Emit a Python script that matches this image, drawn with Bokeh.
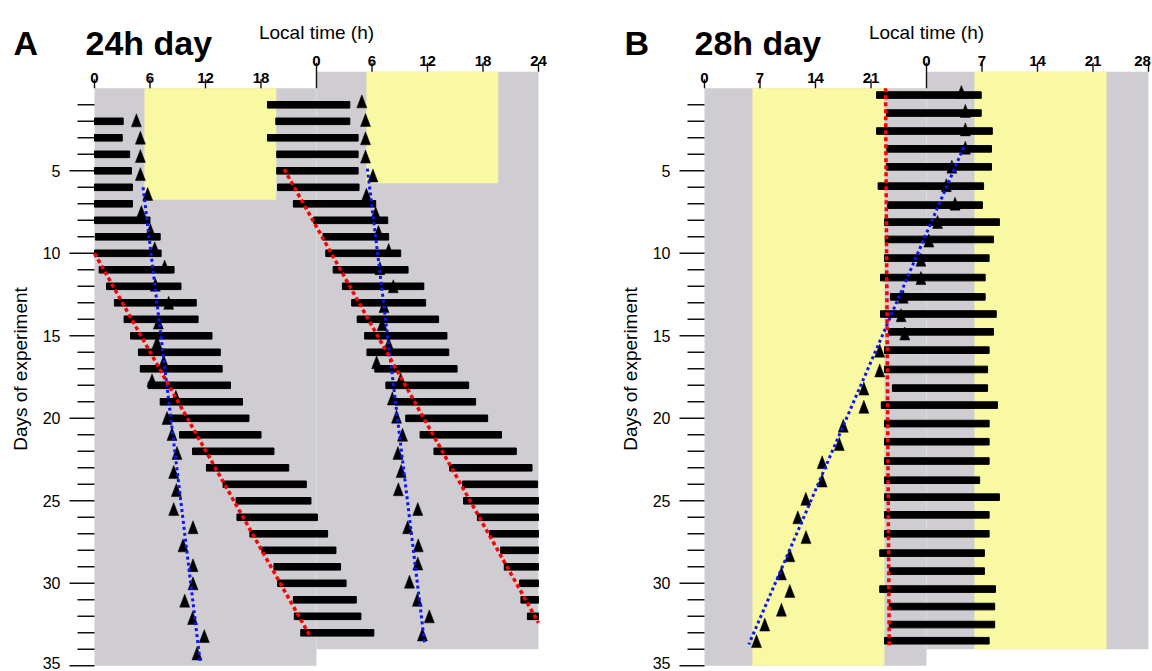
import math
from bokeh.plotting import figure
from bokeh.models import Range1d
from bokeh.layouts import row
from bokeh.embed import file_html
from bokeh.resources import INLINE
from bokeh.core.properties import value

FONT = "Liberation Sans"
GRAY = "#cfcdd1"
YELLOW = "#f8f9a2"
RED = "#ff0000"
BLUE = "#0a14ff"
INK = "#111111"

# ---------------- Panel A : 24 h day ----------------
A_PERIOD = 24
A_TICKS = [0, 6, 12, 18, 24]
A_LIGHT_ON, A_LIGHT_OFF = 5.4, 19.65
A_LD_END = 6.75  # last light-dark day in the left half (right half is one row higher)

# left half: day row, activity onset / offset (h, local time of that day)
A_L_ROW = list(range(2, 34))
A_L_ON = [-5.3, -4.4, -5.3, -4.3, -4.3, -4.2, -2.5, 0.1, 0.0, 0.5, 1.3, 2.15, 3.2, 3.9, 4.75, 4.95,
          5.8, 7.1, 7.8, 9.2, 10.6, 12.1, 13.9, 15.3, 15.4, 16.8, 18.1, 19.4, 19.8, 21.5, 21.6, 22.3]
A_L_OFF = [3.1, 3.0, 3.8, 4.0, 4.1, 4.1, 6.0, 7.1, 7.2, 8.6, 9.35, 11.0, 11.2, 12.7, 13.6, 13.8,
           14.7, 16.0, 16.7, 18.0, 19.4, 21.0, 22.9, 23.4, 24.1, 25.2, 26.1, 26.6, 27.2, 28.3, 28.8, 30.2]
# right half (double plot): row, onset / offset (h, right-hand local time)
A_R_ROW = list(range(1, 33))
A_R_ON = [-5.3, -4.4, -5.3, -4.3, -4.3, -4.2, -2.5, -0.3, 0.7, 1.0, 1.8, 2.8, 3.8, 4.4, 5.2, 5.45,
          6.3, 7.5, 8.5, 9.65, 11.2, 12.7, 14.4, 15.8, 15.9, 17.4, 18.7, 19.9, 20.3, 21.95, 22.1, 22.8]
A_R_OFF = [3.6, 3.6, 4.5, 4.5, 4.5, 4.6, 6.4, 7.7, 7.8, 9.1, 9.9, 11.6, 11.8, 13.2, 14.1, 14.3,
           15.2, 16.45, 17.2, 18.5, 20.0, 21.6, 23.3, 23.9, 24.6, 25.6, 26.5, 27.0, 27.6, 28.7, 29.2, 30.6]
# triangles (day, h)
A_L_TRI_DAY = [1.94, 2.99, 4.1, 5.2, 6.4, 7.5, 8.6, 9.7, 10.8, 11.9, 13.0, 14.2, 15.4, 16.55, 17.7,
               18.7, 19.98, 20.95, 22.1, 23.25, 24.35, 25.5, 26.6, 27.7, 28.9, 30.0, 31.05, 32.1, 33.2, 34.25]
A_L_TRI_H = [4.53, 4.96, 4.96, 4.96, 5.75, 5.07, 6.04, 6.51, 7.58, 6.58, 8.02, 6.9, 6.76, 7.48, 6.22,
             8.8, 7.84, 8.38, 8.92, 8.56, 8.85, 8.56, 10.65, 9.57, 10.65, 10.65, 9.75, 10.6, 11.87, 11.08]
A_R_TRI_DAY = [0.79, 1.92, 3.03, 4.14, 5.28, 6.45, 7.58, 8.7, 9.8, 10.9, 12.0, 13.2, 14.3, 15.5, 16.6,
               17.65, 18.8, 19.9, 21.0, 22.1, 23.2, 24.3, 25.5, 26.6, 27.7, 28.8, 29.9, 31.0, 32.0, 33.1]
A_R_TRI_H = [4.9, 5.3, 5.3, 5.3, 6.1, 5.4, 6.4, 6.7, 7.8, 6.85, 8.3, 7.3, 7.1, 7.8, 6.5,
             9.1, 8.2, 8.65, 9.3, 8.8, 9.15, 8.85, 10.95, 9.85, 11.0, 10.95, 10.05, 10.9, 12.2, 11.45]
# fitted lines (day, h)
A_L_BLUE_DAY, A_L_BLUE_H = [6.0, 34.8], [5.25, 11.43]
A_L_RED_DAY, A_L_RED_H = [10.0, 33.2], [0.0, 23.3]
A_R_BLUE_DAY, A_R_BLUE_H = [4.87, 33.7], [5.5, 11.7]
A_R_RED_DAY, A_R_RED_H = [4.9, 32.4], [-3.5, 24.0]

# ---------------- Panel B : 28 h day ----------------
B_PERIOD = 28
B_TICKS = [0, 7, 14, 21, 28]
B_LIGHT_ON, B_LIGHT_OFF = 6.05, 22.7
B_LD_END = 35
B_ROW_DAY = [0.41, 1.50, 2.59, 3.67, 4.76, 5.93, 7.08, 8.11, 9.16, 10.29, 11.47, 12.64, 13.68, 14.76,
             15.87, 17.04, 18.17, 19.2, 20.32, 21.42, 22.59, 23.75, 24.78, 25.85, 27.0, 28.17, 29.26,
             30.35, 31.41, 32.5, 33.48]
B_ON = [21.7, 22.95, 21.7, 23.0, 22.95, 21.9, 23.1, 22.7, 22.8, 22.7, 22.2, 23.45, 22.2, 23.2, 22.7,
        22.7, 23.7, 22.3, 22.7, 22.7, 22.7, 22.7, 22.7, 22.7, 22.7, 22.1, 23.3, 22.1, 23.3, 23.3, 22.7]
B_OFF = [34.9, 34.9, 36.3, 36.2, 36.2, 35.2, 35.05, 37.2, 36.45, 35.9, 35.4, 35.4, 36.8, 36.45, 35.9,
         35.7, 35.7, 36.95, 35.9, 35.9, 35.9, 34.7, 37.2, 35.9, 35.9, 35.3, 35.3, 36.7, 36.6, 36.6, 35.9]
B_TRI_DAY = [0.22, 1.37, 2.49, 3.6, 4.75, 5.87, 6.99, 8.1, 9.23, 10.39, 11.5, 12.63, 13.75, 14.86, 15.9,
             17.1, 18.2, 19.3, 20.45, 21.56, 22.66, 23.77, 24.88, 26.0, 27.2, 28.3, 29.4, 30.46, 31.6,
             32.5, 33.5]
B_TRI_H = [32.4, 32.9, 32.9, 32.9, 31.2, 30.5, 31.6, 29.4, 28.3, 27.3, 27.3, 25.06, 24.8, 25.26, 22.1,
           22.1, 20.1, 20.1, 17.5, 17.0, 14.84, 14.84, 12.78, 11.77, 12.8, 10.76, 9.7, 10.76, 9.7,
           7.6, 6.56]
B_BLUE_DAY, B_BLUE_H = [3.56, 33.7], [32.7, 5.59]
B_RED_DAY, B_RED_H = [0.0, 33.9], [22.83, 23.3]

DAY_MAJOR = [5, 10, 15, 20, 25, 30, 35]
DAY_MINOR = [d for d in range(1, 35) if d % 5]
Y_LABEL = "Days of experiment"
X_LABEL = "Local time (h)"

# ---------------- page geometry (pixels) ----------------
HEIGHT = 671
PX_DAY = 16.5      # pixels per day
DAY0_PX = 87.8     # canvas y of day 0
HALF_PX = 222.0    # pixels per plotted period


def make_panel(period, ticks, light_on, light_off, ld_end, letter, title,
               width, frame_left, letter_px, title_px):
    pxh = HALF_PX / period

    def xh(px):
        return (px - frame_left) / pxh

    def yd(px):
        return (px - DAY0_PX) / PX_DAY

    p = figure(width=width, height=HEIGHT, x_range=Range1d(xh(0), xh(width)),
               y_range=Range1d(yd(HEIGHT), yd(0)), x_axis_type=None, y_axis_type=None,
               toolbar_location=None, output_backend="svg",
               min_border=0, min_border_left=0, min_border_right=0,
               min_border_top=0, min_border_bottom=0,
               background_fill_color="white", border_fill_color="white")
    p.outline_line_color = None
    p.grid.visible = False

    offsets = [0, period]
    tops = [0, -1]
    p.quad(left=offsets, right=[o + period for o in offsets], top=tops,
           bottom=[35, 34], fill_color=GRAY, line_color=None)
    p.quad(left=[o + light_on for o in offsets], right=[o + light_off for o in offsets], top=tops,
           bottom=[ld_end, ld_end - 1], fill_color=YELLOW, line_color=None)

    tick_len = 9 / PX_DAY
    # top axis of the left half (day 0) and of the right half (day -1)
    lt = ticks[:-1]
    p.segment(x0=lt, y0=[0] * len(lt), x1=lt, y1=[-tick_len] * len(lt), line_color=INK, line_width=1.4)
    rt = [period + t for t in ticks[1:]]
    p.segment(x0=rt, y0=[-1] * len(rt), x1=rt, y1=[-1 - tick_len] * len(rt), line_color=INK, line_width=1.4)
    p.segment(x0=[period], y0=[0], x1=[period], y1=[-1 - tick_len], line_color=INK, line_width=1.4)
    p.text(x=lt, y=[yd(77.3)] * len(lt), text=[str(t) for t in lt], text_align="center",
           text_baseline="alphabetic", text_font=value(FONT), text_font_size="15px",
           text_font_style="bold", text_color="black")
    x_max_label = xh(width - 10)   # keep the last label inside the page
    p.text(x=[min(period + t, x_max_label) for t in ticks], y=[yd(60.8)] * len(ticks),
           text=[str(t) for t in ticks],
           text_align="center", text_baseline="alphabetic", text_font=value(FONT),
           text_font_size="15px", text_font_style="bold", text_color="black")
    p.text(x=[period], y=[yd(32.3)], text=[X_LABEL], text_align="center", text_baseline="alphabetic",
           text_font=value(FONT), text_font_size="19px", text_color="black")

    # left axis: days
    p.segment(x0=[-25 / pxh] * len(DAY_MAJOR), y0=DAY_MAJOR, x1=[0] * len(DAY_MAJOR), y1=DAY_MAJOR,
              line_color=INK, line_width=1.4)
    p.segment(x0=[-17 / pxh] * len(DAY_MINOR), y0=DAY_MINOR, x1=[0] * len(DAY_MINOR), y1=DAY_MINOR,
              line_color=INK, line_width=1.4)
    y_max_label = yd(HEIGHT - 9)   # keep the bottom label inside the page
    p.text(x=[-34 / pxh] * len(DAY_MAJOR), y=[min(d, y_max_label) for d in DAY_MAJOR],
           text=[str(d) for d in DAY_MAJOR],
           text_align="right", text_baseline="middle", text_font=value(FONT),
           text_font_size="16px", text_color="black")
    p.text(x=[xh(frame_left - 74)], y=[yd(368.5)], text=[Y_LABEL], angle=math.pi / 2,
           text_align="center", text_baseline="middle", text_font=value(FONT),
           text_font_size="19px", text_color="black")

    # panel letter and title
    p.text(x=[xh(letter_px), xh(title_px)], y=[yd(42.7)] * 2, text=[letter, title],
           text_align="left", text_baseline="alphabetic", text_font=value(FONT),
           text_font_size="34px", text_font_style="bold", text_color="black")
    return p


def bars(p, rows, on, off, offset, period):
    lo, hi = 0, 2 * period   # the actogram window
    left = [min(max(offset + v, lo), hi) for v in on]
    right = [min(max(offset + v, lo), hi) for v in off]
    p.hbar(y=rows, left=left, right=right, height=0.4, color="black")


def triangles(p, days, hours, offset, hw, hh):
    xs = [[offset + h - hw, offset + h, offset + h + hw] for h in hours]
    ys = [[d + hh, d - hh, d + hh] for d in days]
    p.patches(xs=xs, ys=ys, fill_color="black", line_color="black", line_width=0.5)


def dotted(p, days, hours, offset, color, width, dash):
    p.line(x=[offset + h for h in hours], y=days, line_color=color, line_width=width, line_dash=dash)


# ---- Panel A
pA = make_panel(A_PERIOD, A_TICKS, A_LIGHT_ON, A_LIGHT_OFF, A_LD_END, "A", "24h day",
                577, 94.0, 13, 85)
bars(pA, A_L_ROW, A_L_ON, A_L_OFF, 0, A_PERIOD)
bars(pA, A_R_ROW, A_R_ON, A_R_OFF, A_PERIOD, A_PERIOD)
pxhA = HALF_PX / A_PERIOD
triangles(pA, A_L_TRI_DAY, A_L_TRI_H, 0, 5 / pxhA, 6.5 / PX_DAY)
triangles(pA, A_R_TRI_DAY, A_R_TRI_H, A_PERIOD, 5 / pxhA, 6.5 / PX_DAY)
dotted(pA, A_L_BLUE_DAY, A_L_BLUE_H, 0, BLUE, 3, "3 3")
dotted(pA, A_R_BLUE_DAY, A_R_BLUE_H, A_PERIOD, BLUE, 3, "3 3")
dotted(pA, A_L_RED_DAY, A_L_RED_H, 0, RED, 3.5, "4 3")
dotted(pA, A_R_RED_DAY, A_R_RED_H, A_PERIOD, RED, 3.5, "4 3")

# ---- Panel B
pB = make_panel(B_PERIOD, B_TICKS, B_LIGHT_ON, B_LIGHT_OFF, B_LD_END, "B", "28h day",
                575, 127.0, 47, 117)
bars(pB, B_ROW_DAY, B_ON, B_OFF, 0, B_PERIOD)
pxhB = HALF_PX / B_PERIOD
triangles(pB, B_TRI_DAY, B_TRI_H, 0, 5 / pxhB, 6.5 / PX_DAY)
dotted(pB, B_BLUE_DAY, B_BLUE_H, 0, BLUE, 3, "3 3")
dotted(pB, B_RED_DAY, B_RED_H, 0, RED, 3.5, "4 3")

layout = row(pA, pB)
open("out.html", "w").write(file_html(layout, INLINE, title="Actograms"))
